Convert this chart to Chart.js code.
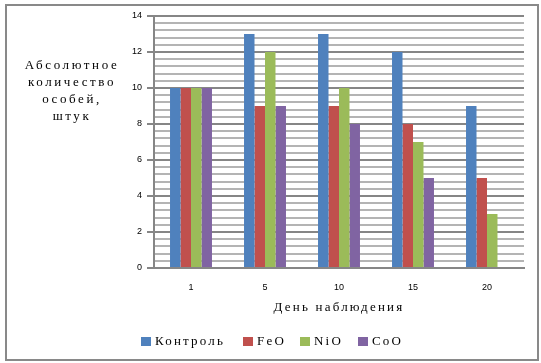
<!DOCTYPE html>
<html>
<head>
<meta charset="utf-8">
<script src="https://cdn.jsdelivr.net/npm/chart.js@4"></script>
<style>
  html, body { margin: 0; padding: 0; background: #fff; }
  #wrap { position: relative; width: 541px; height: 363px; }
</style>
</head>
<body>
<div id="wrap"><canvas id="barChart"></canvas></div>
<script>
// data
const days = ['1', '5', '10', '15', '20'];
const control = [10, 13, 13, 12, 9];
const feo = [10, 9, 9, 8, 5];
const nio = [10, 12, 10, 7, 3];
const coo = [10, 9, 8, 5, 0];
const seriesNames = ['Контроль', 'FeO', 'NiO', 'CoO'];
const seriesColors = ['#4F81BD', '#C0504D', '#9BBB59', '#8064A2'];
const yTitleLines = ['Абсолютное', 'количество', 'особей,', 'штук'];
const xTitle = 'День наблюдения';

const isMajor = v => Math.abs(v / 2 - Math.round(v / 2)) < 1e-6;

// border, y title, x title and legend drawn as text on the canvas
const decorPlugin = {
    id: 'decor',
    afterDraw(chart) {
        const ctx = chart.ctx;
        ctx.save();
        ctx.strokeStyle = '#898989';
        ctx.lineWidth = 2;
        ctx.strokeRect(6, 5, 532, 355);

        ctx.fillStyle = '#000';
        ctx.font = '13px "Liberation Serif"';
        ctx.textBaseline = 'middle';
        ctx.textAlign = 'center';
        ctx.letterSpacing = '2.6px';
        yTitleLines.forEach((t, i) => ctx.fillText(t, 72, 66 + i * 17));

        ctx.letterSpacing = '2.2px';
        ctx.fillText(xTitle, 339, 308);

        // legend
        ctx.textAlign = 'left';
        ctx.letterSpacing = '2.2px';
        const xs = [141, 243, 300, 358];
        seriesNames.forEach((n, i) => {
            ctx.fillStyle = seriesColors[i];
            ctx.fillRect(xs[i], 337, 10, 9);
            ctx.fillStyle = '#000';
            ctx.fillText(n, xs[i] + 14, 342);
        });
        ctx.restore();
    }
};

function initChart() {
    const ctx = document.getElementById('barChart').getContext('2d');
    const values = [control, feo, nio, coo];
    new Chart(ctx, {
        type: 'bar',
        data: {
            labels: days,
            datasets: seriesNames.map((n, i) => ({
                label: n,
                data: values[i],
                backgroundColor: seriesColors[i],
                borderWidth: 0,
                barPercentage: 1,
                categoryPercentage: 0.567
            }))
        },
        options: {
            responsive: true,
            maintainAspectRatio: false,
            animation: false,
            layout: { padding: { left: 0, right: 17, top: 16, bottom: 65 } },
            plugins: { legend: { display: false }, tooltip: { enabled: false } },
            scales: {
                x: {
                    grid: { display: false },
                    border: { color: '#868686', width: 2 },
                    ticks: { color: '#000', font: { family: 'Liberation Sans', size: 9 }, padding: 6 },
                    afterFit(scale) { scale.height = 30; }
                },
                y: {
                    min: 0,
                    max: 14,
                    ticks: {
                        stepSize: 0.4,
                        autoSkip: false,
                        color: '#000',
                        padding: 5,
                        font: { family: 'Liberation Sans', size: 9 },
                        callback: v => isMajor(v) ? Math.round(v) : ''
                    },
                    grid: {
                        color: c => isMajor(c.tick.value) ? '#868686' : '#b4b4b4',
                        lineWidth: 2,
                        tickColor: c => isMajor(c.tick.value) ? '#868686' : 'rgba(0,0,0,0)',
                        tickLength: 7
                    },
                    border: { color: '#868686', width: 2 },
                    afterFit(scale) { scale.width = 154; }
                }
            }
        },
        plugins: [decorPlugin]
    });
}

document.addEventListener('DOMContentLoaded', initChart);
</script>
</body>
</html>
